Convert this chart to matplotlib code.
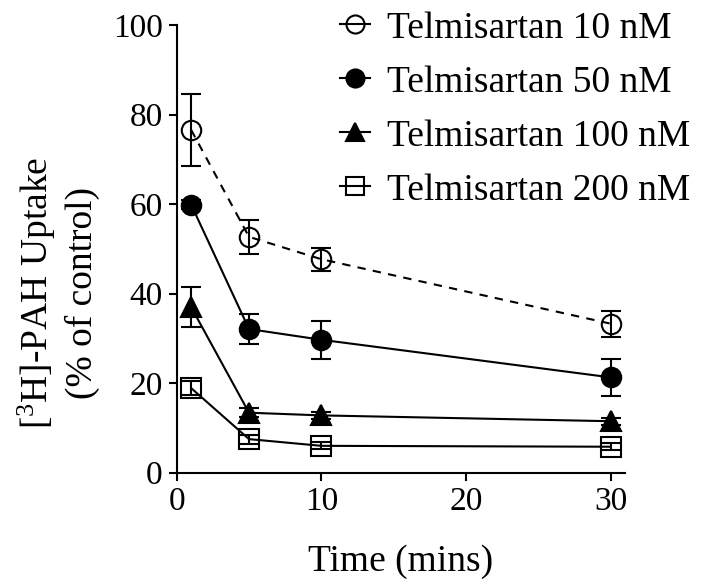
import matplotlib
matplotlib.use('Agg')
import matplotlib.pyplot as plt
from matplotlib.lines import Line2D

plt.rcParams['font.family'] = 'Liberation Serif'
plt.rcParams['mathtext.fontset'] = 'custom'
plt.rcParams['mathtext.rm'] = 'Liberation Serif'

time = [1, 5, 10, 30]

t10 = [76.6, 52.7, 47.7, 33.3]
err10 = [8.0, 3.8, 2.6, 2.9]
t50 = [59.9, 32.1, 29.7, 21.3]
err50 = [1.0, 3.4, 4.3, 4.2]
t100 = [37.0, 13.4, 12.8, 11.5]
err100 = [4.5, 1.0, 0.8, 0.8]
t200 = [18.9, 7.5, 6.0, 5.8]
err200 = [1.5, 1.0, 0.8, 0.8]

labels = ['Telmisartan 10 nM', 'Telmisartan 50 nM',
          'Telmisartan 100 nM', 'Telmisartan 200 nM']

fig = plt.figure(figsize=(7.28, 5.85), dpi=100)
ax = fig.add_axes([0.2427, 0.192, 0.6158, 0.765])

common = dict(color='black', capsize=7, elinewidth=1.5, capthick=1.5,
              linewidth=1.5, markersize=14, markeredgewidth=1.5, clip_on=False)

ax.errorbar(time, t10, yerr=err10, marker='o', markerfacecolor='none',
            linestyle=(0, (4, 3.5)), **common)
ax.errorbar(time, t50, yerr=err50, marker='o', markerfacecolor='black',
            linestyle='-', **common)
ax.errorbar(time, t100, yerr=err100, marker='^', markerfacecolor='black',
            linestyle='-', **common)
ax.errorbar(time, t200, yerr=err200, marker='s', markerfacecolor='none',
            linestyle='-', **common)

ax.set_xlim(0, 31)
ax.set_ylim(0, 100)
ax.set_xticks([0, 10, 20, 30])
ax.set_yticks([0, 20, 40, 60, 80, 100])
ax.spines['top'].set_visible(False)
ax.spines['right'].set_visible(False)
ax.spines['left'].set_linewidth(1.5)
ax.spines['bottom'].set_linewidth(1.5)
ax.tick_params(direction='out', length=6, width=1.5, labelsize=24, pad=4)

ax.set_xlabel('Time (mins)', fontsize=27, labelpad=20)
fig.text(58 / 728, 1 - 293 / 585,
         '[$\\mathregular{^3}$H]-PAH Uptake\n(% of control)',
         rotation=90, ha='center', va='center', multialignment='center',
         fontsize=27, linespacing=1.25)

# legend shows marker + short line only
styles = [('o', 'none'), ('o', 'black'), ('^', 'black'), ('s', 'none')]
handles = [Line2D([], [], color='black', marker=m, markerfacecolor=fc,
                  markersize=13, markeredgewidth=1.5, linewidth=1.5)
           for m, fc in styles]
fig.legend(handles, labels, loc='upper left', bbox_to_anchor=(340 / 728, 1 - 11 / 585),
           frameon=False, fontsize=27, handlelength=0.8, handletextpad=0.45,
           labelspacing=0.52, borderpad=0, borderaxespad=0)

fig.savefig('out.png', dpi=100)
